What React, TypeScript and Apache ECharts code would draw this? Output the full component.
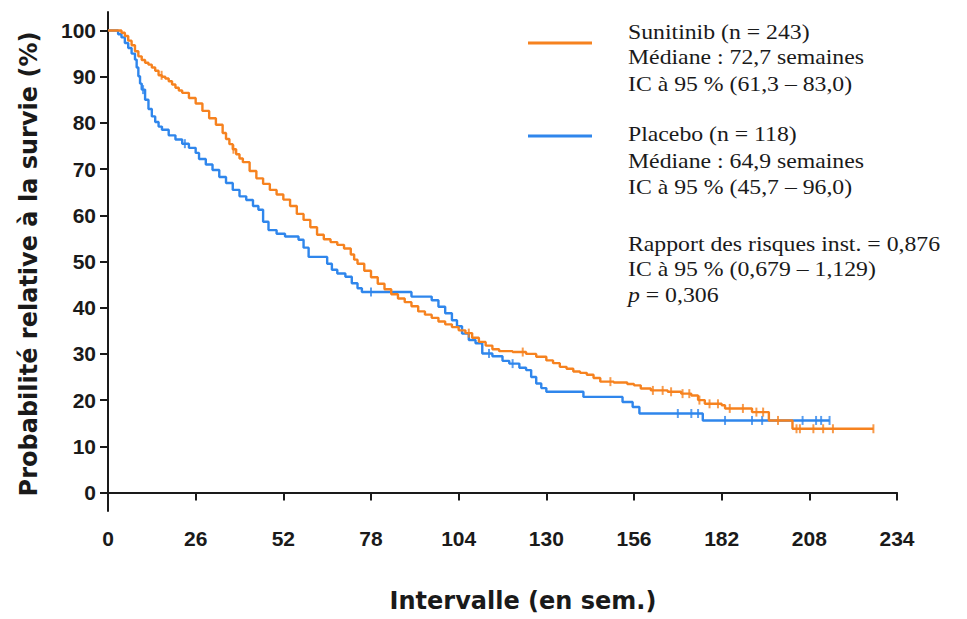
import React, { useEffect, useRef } from "react";
import * as echarts from "echarts";

// Kaplan-Meier steps: [week, survival %]
const sunitinibSteps: [number, number][] = [
  [0, 100], [3, 100], [4, 99.5], [5, 98.8], [6, 97.8], [7, 96.8], [8, 95.5], [9, 94.4], [10, 93.6],
  [11, 93], [12, 92.6], [13, 92], [14, 91.3], [15, 90.3], [16, 90], [17, 89.6], [18, 89], [19, 88.3],
  [20, 87.6], [21, 87], [22, 86.5], [24, 85.4], [26, 84.2], [28, 82.6], [30, 81], [32, 79.6], [34, 77.8],
  [35, 76.5], [36, 75.4], [37, 74.3], [38, 73.2], [39, 72.3], [40, 71.5], [42, 69.6], [44, 68], [46, 66.8],
  [48, 65.5], [50, 64.5], [52, 63.4], [54, 62], [56, 60.3], [58, 59], [60, 57.4], [62, 55.8], [64, 54.8],
  [66, 54.2], [68, 53.6], [70, 52.8], [72, 51.5], [73, 50.4], [74, 49.5], [76, 48], [78, 46.6], [80, 45.2],
  [82, 44], [84, 42.9], [86, 42], [88, 41.2], [90, 40.3], [92, 39.2], [94, 38.5], [96, 37.8], [98, 37],
  [100, 36.4], [102, 35.8], [104, 35.1], [106, 34.5], [108, 33.5], [110, 32.6], [112, 31.8], [114, 31],
  [116, 30.6], [120, 30.4], [124, 30], [127, 29.4], [130, 28.6], [132, 28], [134, 27.2], [136, 26.8],
  [138, 26.2], [140, 25.9], [142, 25.5], [144, 24.8], [146, 24], [150, 23.8], [154, 23.5], [156, 23.2],
  [158, 22.5], [161, 22.1], [166, 21.8], [170, 21.4], [173, 21], [175, 20], [177, 19.2], [182, 18.9],
  [183, 18.2], [191, 17.4], [196, 15.6], [203, 13.8], [227, 13.8],
];

const placeboSteps: [number, number][] = [
  [0, 100], [2, 100], [3, 99.2], [4, 98.5], [5, 97.3], [6, 96.2], [7, 95], [8, 93.7], [8.5, 92], [9, 90.1],
  [9.5, 88.5], [10, 87.2], [11, 85], [12, 83], [13, 81.4], [14, 80.2], [15, 79.2], [16, 78.5], [18, 77.3],
  [20, 76.4], [22, 75.5], [24, 74.6], [26, 73.5], [27, 72.2], [29, 71], [31, 69.8], [33, 68.3], [35, 67],
  [37, 65.5], [39, 64.1], [41, 63.3], [43, 62], [44.6, 61.2], [46, 58.6], [47.6, 56.8], [50, 56],
  [52.5, 55.4], [56.5, 54.7], [58, 53], [59.5, 51], [63.4, 51], [65, 49.5], [66.4, 48.2], [68, 47.4],
  [70.4, 46.7], [72.3, 45.3], [74, 44.2], [75.3, 43.4], [89, 43.4], [90, 42.4], [96, 41.6], [98, 40.2],
  [100, 38.8], [102, 37.3], [103.5, 36], [105, 34.4], [107, 33], [109, 32.3], [111, 30.1], [114, 29.5],
  [117, 28.5], [119, 27.9], [122, 27], [124, 26.5], [125.5, 25], [127, 23.6], [128.5, 22.6], [130, 21.8],
  [140, 21.8], [141, 20.7], [151, 20.7], [152.6, 19.6], [155.6, 18.5], [157.6, 17.1], [175.4, 17.1],
  [176.4, 15.6], [214, 15.6],
];

// censoring times (weeks)
const sunitinibCensored = [
  15.9, 37.2, 107, 123, 149, 161.6, 164.5, 167, 170.4, 172.4, 175.4, 178.4, 180.9, 184.4, 188.3, 192.3,
  194.3, 198.7, 204.2, 205.2, 209.2, 212.1, 215, 227,
];
const placeboCensored = [10.4, 22.8, 78, 113, 120, 169, 173, 175, 183, 191, 194, 206, 210, 211.5, 214];

const yTicks = [0, 10, 20, 30, 40, 50, 60, 70, 80, 90, 100];
const xMin = 0;
const xMax = 234;
const xInterval = 26;

const sunitinibLegend = ["Sunitinib (n = 243)", "Médiane : 72,7 semaines", "IC à 95 % (61,3 – 83,0)"];
const placeboLegend = ["Placebo (n = 118)", "Médiane : 64,9 semaines", "IC à 95 % (45,7 – 96,0)"];
const statsLegend = ["Rapport des risques inst. = 0,876", "IC à 95 % (0,679 – 1,129)", "{i|p} = 0,306"];

const xTitle = "Intervalle (en sem.)";
const yTitle = "Probabilité relative à la survie (%)";

const ORANGE = "#F6821F";
const BLUE = "#2F86EC";
const AXIS = "#1a1a1a";

function survivalAt(steps: [number, number][], t: number): number {
  let v = steps[0][1];
  for (const [w, s] of steps) {
    if (w <= t) v = s;
    else break;
  }
  return v;
}

const serifFont = '22px "Liberation Serif", "Times New Roman", serif';

function legendTexts(lines: string[], ys: number[]) {
  return lines.map((t, i) => ({
    type: "text",
    x: 628,
    y: ys[i],
    scaleX: 1.08,
    style: {
      text: t,
      font: serifFont,
      fill: "#1a1a1a",
      align: "left",
      verticalAlign: "middle",
      textAlign: "left",
      textVerticalAlign: "middle",
      rich: {
        i: { fontStyle: "italic", fontFamily: '"Liberation Serif"', fontSize: 22, fill: "#1a1a1a" },
      },
    },
  }));
}

export default function App() {
  const ref = useRef<HTMLDivElement>(null);

  useEffect(() => {
    if (!ref.current) return;
    const chart = echarts.init(ref.current, undefined, { renderer: "svg" });

    const option: any = {
      animation: false,
      backgroundColor: "#ffffff",
      grid: {
        left: 108,
        right: 70,
        top: 12,
        bottom: 108,
        containLabel: false,
        outerBoundsMode: "none",
      },
      xAxis: {
        type: "value",
        min: xMin,
        max: xMax,
        interval: xInterval,
        axisLine: { show: true, lineStyle: { color: AXIS, width: 2 } },
        axisTick: { show: true, length: 8, lineStyle: { color: AXIS, width: 2 } },
        axisLabel: {
          fontFamily: '"Liberation Sans", Arial, sans-serif',
          fontWeight: "bold",
          fontSize: 21,
          color: "#1a1a1a",
          margin: 17,
        },
        splitLine: { show: false },
      },
      yAxis: {
        type: "value",
        min: -4,
        max: 104,
        axisLine: { show: true, lineStyle: { color: AXIS, width: 2 } },
        axisTick: { show: true, length: 8, customValues: yTicks, lineStyle: { color: AXIS, width: 2 } },
        axisLabel: {
          customValues: yTicks,
          fontFamily: '"Liberation Sans", Arial, sans-serif',
          fontWeight: "bold",
          fontSize: 21,
          color: "#1a1a1a",
          margin: 12,
        },
        splitLine: { show: false },
      },
      series: [
        {
          name: "Sunitinib",
          type: "line",
          step: "end",
          showSymbol: false,
          data: sunitinibSteps,
          lineStyle: { color: ORANGE, width: 2.4 },
          itemStyle: { color: ORANGE },
          z: 3,
        },
        {
          name: "Placebo",
          type: "line",
          step: "end",
          showSymbol: false,
          data: placeboSteps,
          lineStyle: { color: BLUE, width: 2.4 },
          itemStyle: { color: BLUE },
          z: 2,
        },
        {
          name: "Sunitinib censurés",
          type: "scatter",
          symbol: "rect",
          symbolSize: [2, 9],
          data: sunitinibCensored.map((t) => [t, survivalAt(sunitinibSteps, t)]),
          itemStyle: { color: ORANGE },
          z: 3,
        },
        {
          name: "Placebo censurés",
          type: "scatter",
          symbol: "rect",
          symbolSize: [2, 9],
          data: placeboCensored.map((t) => [t, survivalAt(placeboSteps, t)]),
          itemStyle: { color: BLUE },
          z: 2,
        },
      ],
      graphic: [
        {
          type: "line",
          shape: { x1: 528, y1: 43, x2: 592, y2: 43 },
          style: { stroke: ORANGE, lineWidth: 3 },
        },
        {
          type: "line",
          shape: { x1: 528, y1: 136, x2: 592, y2: 136 },
          style: { stroke: BLUE, lineWidth: 3 },
        },
        ...legendTexts(sunitinibLegend, [32, 57, 84]),
        ...legendTexts(placeboLegend, [134, 161, 187]),
        ...legendTexts(statsLegend, [244, 269, 295]),
        {
          type: "text",
          x: 29,
          y: 264,
          rotation: Math.PI / 2,
          style: {
            text: yTitle,
            font: 'bold 24px "DejaVu Sans", sans-serif',
            fill: "#1a1a1a",
            align: "center",
            verticalAlign: "middle",
            textAlign: "center",
            textVerticalAlign: "middle",
          },
        },
        {
          type: "text",
          x: 523,
          y: 601,
          style: {
            text: xTitle,
            font: 'bold 24px "DejaVu Sans", sans-serif',
            fill: "#1a1a1a",
            align: "center",
            verticalAlign: "middle",
            textAlign: "center",
            textVerticalAlign: "middle",
          },
        },
      ],
    };

    chart.setOption(option);
    return () => {
      chart.dispose();
    };
  }, []);

  return (
    <div
      ref={ref}
      style={{ position: "absolute", left: 0, top: 0, width: 967, height: 619, background: "#fff" }}
    />
  );
}
